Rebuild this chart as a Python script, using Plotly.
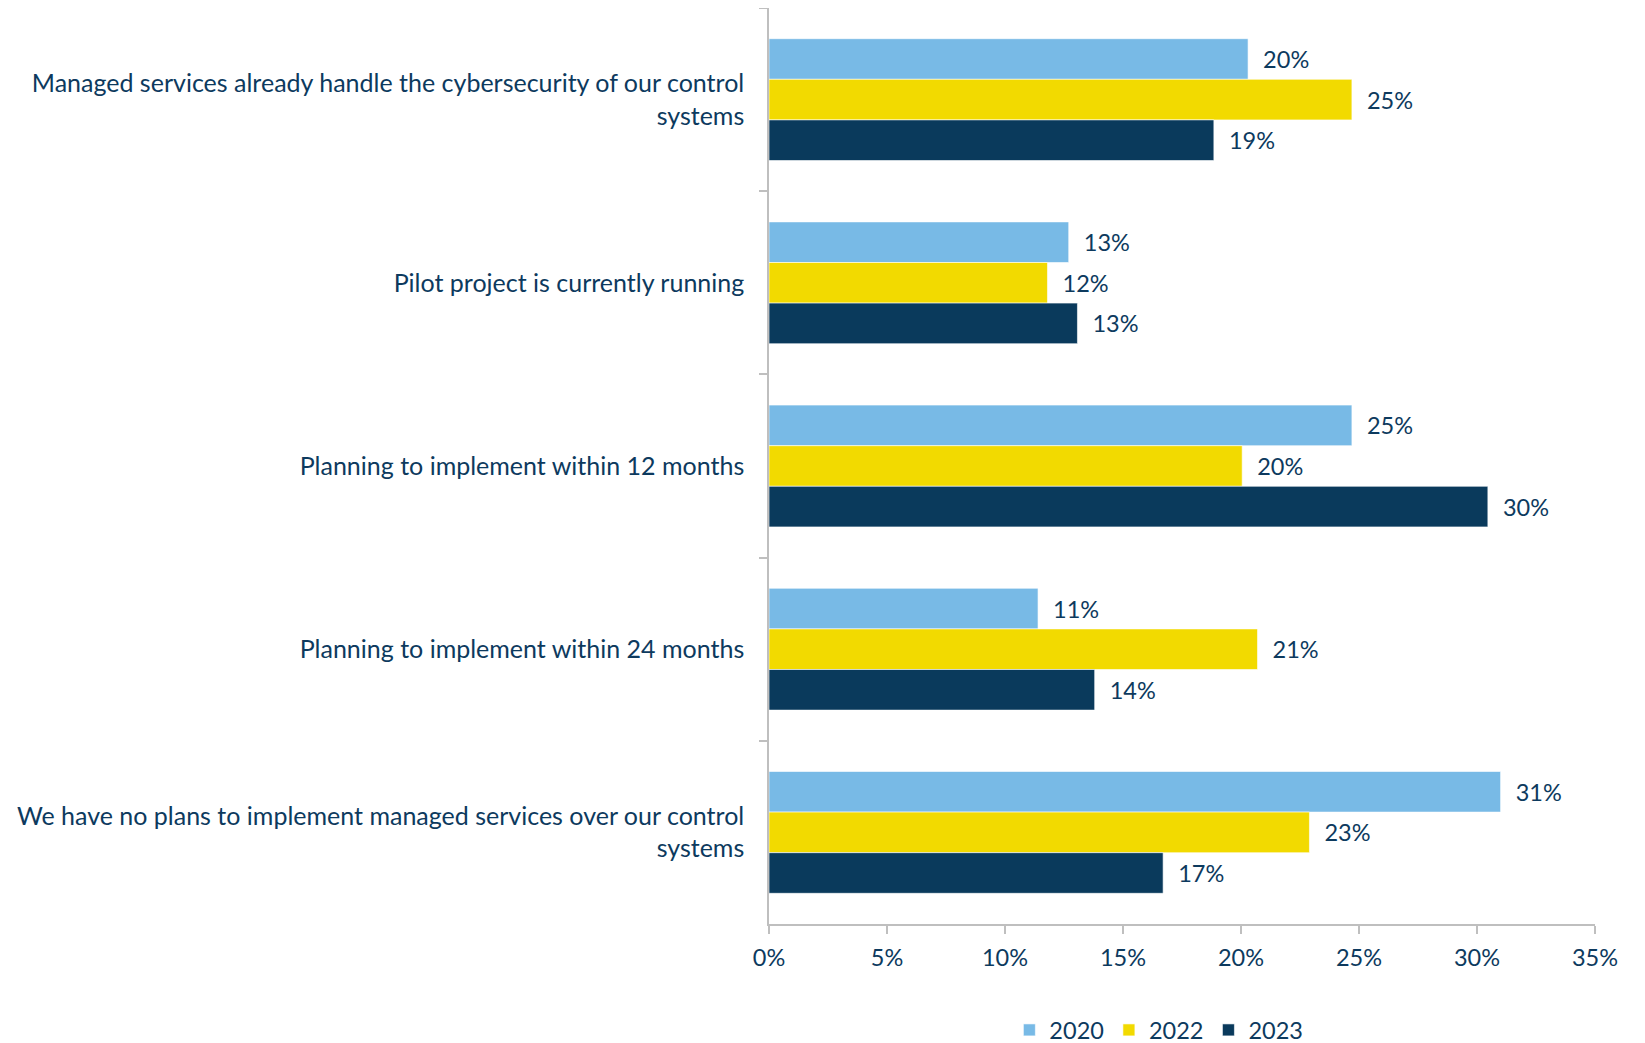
import plotly.graph_objects as go

categories = [
    "Managed services already handle the cybersecurity of our control<br>systems",
    "Pilot project is currently running",
    "Planning to implement within 12 months",
    "Planning to implement within 24 months",
    "We have no plans to implement managed services over our control<br>systems",
]
years = ["2020", "2022", "2023"]
values_2020 = [20.3, 12.7, 24.7, 11.4, 31.0]
values_2022 = [24.7, 11.8, 20.05, 20.7, 22.9]
values_2023 = [18.85, 13.07, 30.46, 13.8, 16.7]
series = [values_2020, values_2022, values_2023]
colors = ["#78BAE6", "#F2DA00", "#0A3A5C"]
tick_vals = [0, 5, 10, 15, 20, 25, 30, 35]
tick_text = ["0%", "5%", "10%", "15%", "20%", "25%", "30%", "35%"]

text_color = "#0D3A5E"
font_family = "Lato, 'Open Sans', sans-serif"

fig = go.Figure()
for yr, vals, col in zip(years, series, colors):
    fig.add_trace(go.Bar(
        name=yr,
        y=categories,
        x=vals,
        orientation="h",
        marker=dict(color=col, line=dict(color="#FFFFFF", width=0.6)),
        texttemplate="  %{x:.0f}%",
        textposition="outside",
        textfont=dict(size=23.5, color=text_color, family=font_family),
        cliponaxis=False,
    ))

fig.update_layout(
    width=1645,
    height=1043,
    margin=dict(l=761, r=58, t=0, b=127),
    barmode="group",
    bargap=0.335,
    bargroupgap=0,
    plot_bgcolor="white",
    paper_bgcolor="white",
    font=dict(family=font_family, color=text_color, size=23.5),
    legend=dict(
        orientation="h",
        x=0.472,
        xanchor="center",
        yref="container",
        y=0.020,
        yanchor="middle",
        font=dict(size=23.5, color=text_color, family=font_family),
        itemwidth=30,
        traceorder="normal",
    ),
)

fig.update_xaxes(
    range=[0, 35],
    tickvals=tick_vals,
    ticktext=tick_text,
    showgrid=False,
    zeroline=False,
    showline=True,
    linecolor="#BFBFBF",
    linewidth=1.5,
    ticks="outside",
    ticklen=8,
    tickcolor="#BFBFBF",
    tickwidth=1.5,
    ticklabelstandoff=4,
    tickfont=dict(size=23.5, color=text_color, family=font_family),
)
fig.update_yaxes(
    autorange="reversed",
    showgrid=False,
    zeroline=False,
    showline=True,
    linecolor="#BFBFBF",
    linewidth=1.5,
    ticks="outside",
    tickson="boundaries",
    ticklen=8,
    tickcolor="#BFBFBF",
    tickwidth=1.5,
    ticklabelstandoff=18,
    tickfont=dict(size=25, color=text_color, family=font_family),
)

fig.write_html("out.html")
